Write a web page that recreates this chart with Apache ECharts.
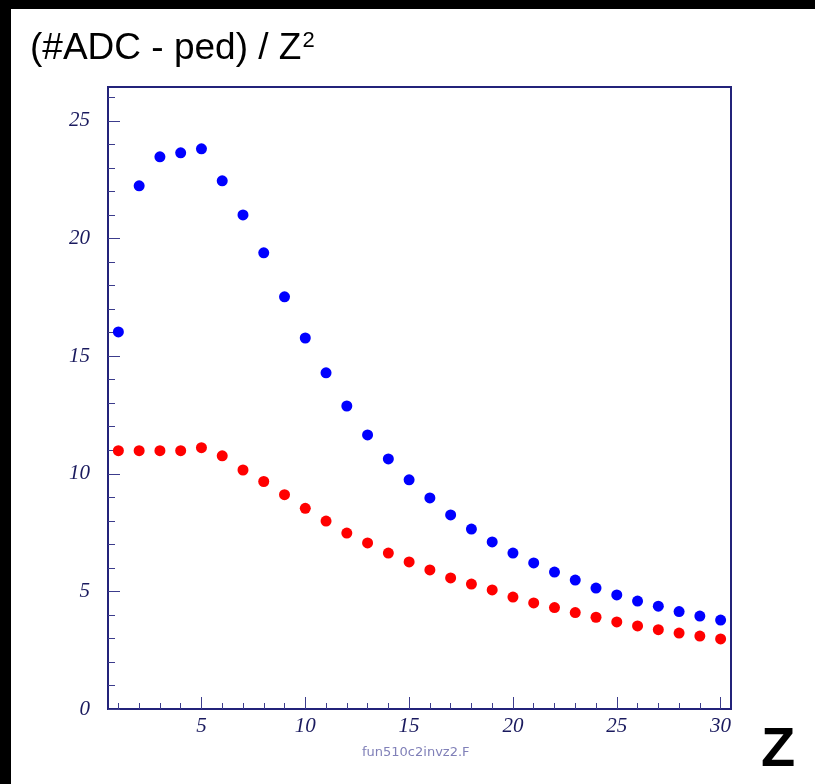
<!DOCTYPE html>
<html>
<head>
<meta charset="utf-8">
<script src="https://cdn.jsdelivr.net/npm/echarts@6/dist/echarts.min.js"></script>
<style>
  html, body { margin: 0; padding: 0; background: #ffffff; }
  #chart { width: 815px; height: 784px; }
</style>
</head>
<body>
<div id="chart"></div>
<script>
// ---- data ----
const zValues = [1, 2, 3, 4, 5, 6, 7, 8, 9, 10, 11, 12, 13, 14, 15, 16, 17, 18, 19, 20, 21, 22, 23, 24, 25, 26, 27, 28, 29, 30];
const blueValues = [16.03, 22.24, 23.47, 23.64, 23.81, 22.45, 21.0, 19.39, 17.52, 15.77, 14.29, 12.88, 11.65, 10.63, 9.74, 8.97, 8.25, 7.65, 7.10, 6.63, 6.21, 5.82, 5.48, 5.14, 4.85, 4.59, 4.37, 4.14, 3.95, 3.78];
const redValues = [10.98, 10.98, 10.98, 10.98, 11.11, 10.76, 10.16, 9.67, 9.11, 8.53, 7.99, 7.48, 7.06, 6.63, 6.25, 5.91, 5.57, 5.31, 5.06, 4.76, 4.51, 4.31, 4.10, 3.90, 3.70, 3.53, 3.37, 3.23, 3.10, 2.98];
const xMajorTicks = [5, 10, 15, 20, 25, 30];
const xMinorTicks = [1, 2, 3, 4, 5, 6, 7, 8, 9, 10, 11, 12, 13, 14, 15, 16, 17, 18, 19, 20, 21, 22, 23, 24, 25, 26, 27, 28, 29, 30];
const yMajorTicks = [0, 5, 10, 15, 20, 25];
const yMinorTicks = [0, 1, 2, 3, 4, 5, 6, 7, 8, 9, 10, 11, 12, 13, 14, 15, 16, 17, 18, 19, 20, 21, 22, 23, 24, 25, 26];
const titleText = '(#ADC - ped) / Z';
const xTitle = 'Z';
const footText = 'fun510c2invz2.F';

const navy = '#23237a';
const tickCol = '#3c3c8c';
const labelCol = '#1a1a5e';
const labelFont = { fontFamily: 'Liberation Serif', fontStyle: 'italic', fontSize: 21, color: labelCol };

const chart = echarts.init(document.getElementById('chart'), null, { renderer: 'canvas' });
const xRange = { min: 0.5, max: 30.5 };
const yRange = { min: 0, max: 26.44 };

chart.setOption({
  backgroundColor: '#ffffff',
  animation: false,
  grid: { left: 108, right: 84, top: 87, bottom: 75, show: true, borderColor: navy, borderWidth: 2, backgroundColor: '#ffffff' },
  xAxis: [
    {
      type: 'value', position: 'bottom', min: xRange.min, max: xRange.max,
      splitLine: { show: false },
      axisLine: { show: true, onZero: false, lineStyle: { color: navy, width: 2 } },
      axisTick: { show: true, inside: true, length: 12, customValues: xMajorTicks, lineStyle: { color: tickCol, width: 1 } },
      axisLabel: Object.assign({ show: true, margin: 7, customValues: xMajorTicks }, labelFont)
    },
    {
      type: 'value', position: 'bottom', min: xRange.min, max: xRange.max,
      splitLine: { show: false },
      axisLine: { show: false, onZero: false },
      axisTick: { show: true, inside: true, length: 6, customValues: xMinorTicks, lineStyle: { color: tickCol, width: 1 } },
      axisLabel: { show: false }
    }
  ],
  yAxis: [
    {
      type: 'value', position: 'left', min: yRange.min, max: yRange.max,
      splitLine: { show: false },
      axisLine: { show: true, onZero: false, lineStyle: { color: navy, width: 2 } },
      axisTick: { show: true, inside: true, length: 12, customValues: yMajorTicks, lineStyle: { color: tickCol, width: 1 } },
      axisLabel: Object.assign({ show: true, margin: 18, customValues: yMajorTicks }, labelFont)
    },
    {
      type: 'value', position: 'left', min: yRange.min, max: yRange.max,
      splitLine: { show: false },
      axisLine: { show: false, onZero: false },
      axisTick: { show: true, inside: true, length: 7, customValues: yMinorTicks, lineStyle: { color: tickCol, width: 1 } },
      axisLabel: { show: false }
    }
  ],
  series: [
    {
      type: 'scatter', xAxisIndex: 0, yAxisIndex: 0, symbol: 'circle', symbolSize: 11,
      itemStyle: { color: '#0000ff', opacity: 1 },
      data: zValues.map((z, i) => [z, blueValues[i]])
    },
    {
      type: 'scatter', xAxisIndex: 0, yAxisIndex: 0, symbol: 'circle', symbolSize: 11,
      itemStyle: { color: '#ff0000', opacity: 1 },
      data: zValues.map((z, i) => [z, redValues[i]])
    }
  ],
  graphic: [
    { type: 'rect', left: 0, top: 0, shape: { width: 815, height: 9 }, style: { fill: '#000000' }, z: 100 },
    { type: 'rect', left: 0, top: 0, shape: { width: 11, height: 784 }, style: { fill: '#000000' }, z: 100 },
    {
      type: 'text', left: 30, top: 30, z: 100,
      style: {
        text: titleText + '{sup|2}',
        font: '37px "Liberation Sans"',
        fill: '#000000',
        rich: { sup: { fontSize: 22, fontFamily: 'Liberation Sans', fill: '#000000', verticalAlign: 'top', padding: [0, 0, 15, 1] } }
      }
    },
    {
      type: 'text', left: 761, top: 723, z: 100,
      style: { text: xTitle, font: 'bold 56px "Liberation Sans"', fill: '#000000' }
    },
    {
      type: 'text', left: 362, top: 746, z: 100,
      style: { text: footText, font: '13px "DejaVu Sans"', fill: '#8080b8' }
    }
  ]
});
</script>
</body>
</html>
